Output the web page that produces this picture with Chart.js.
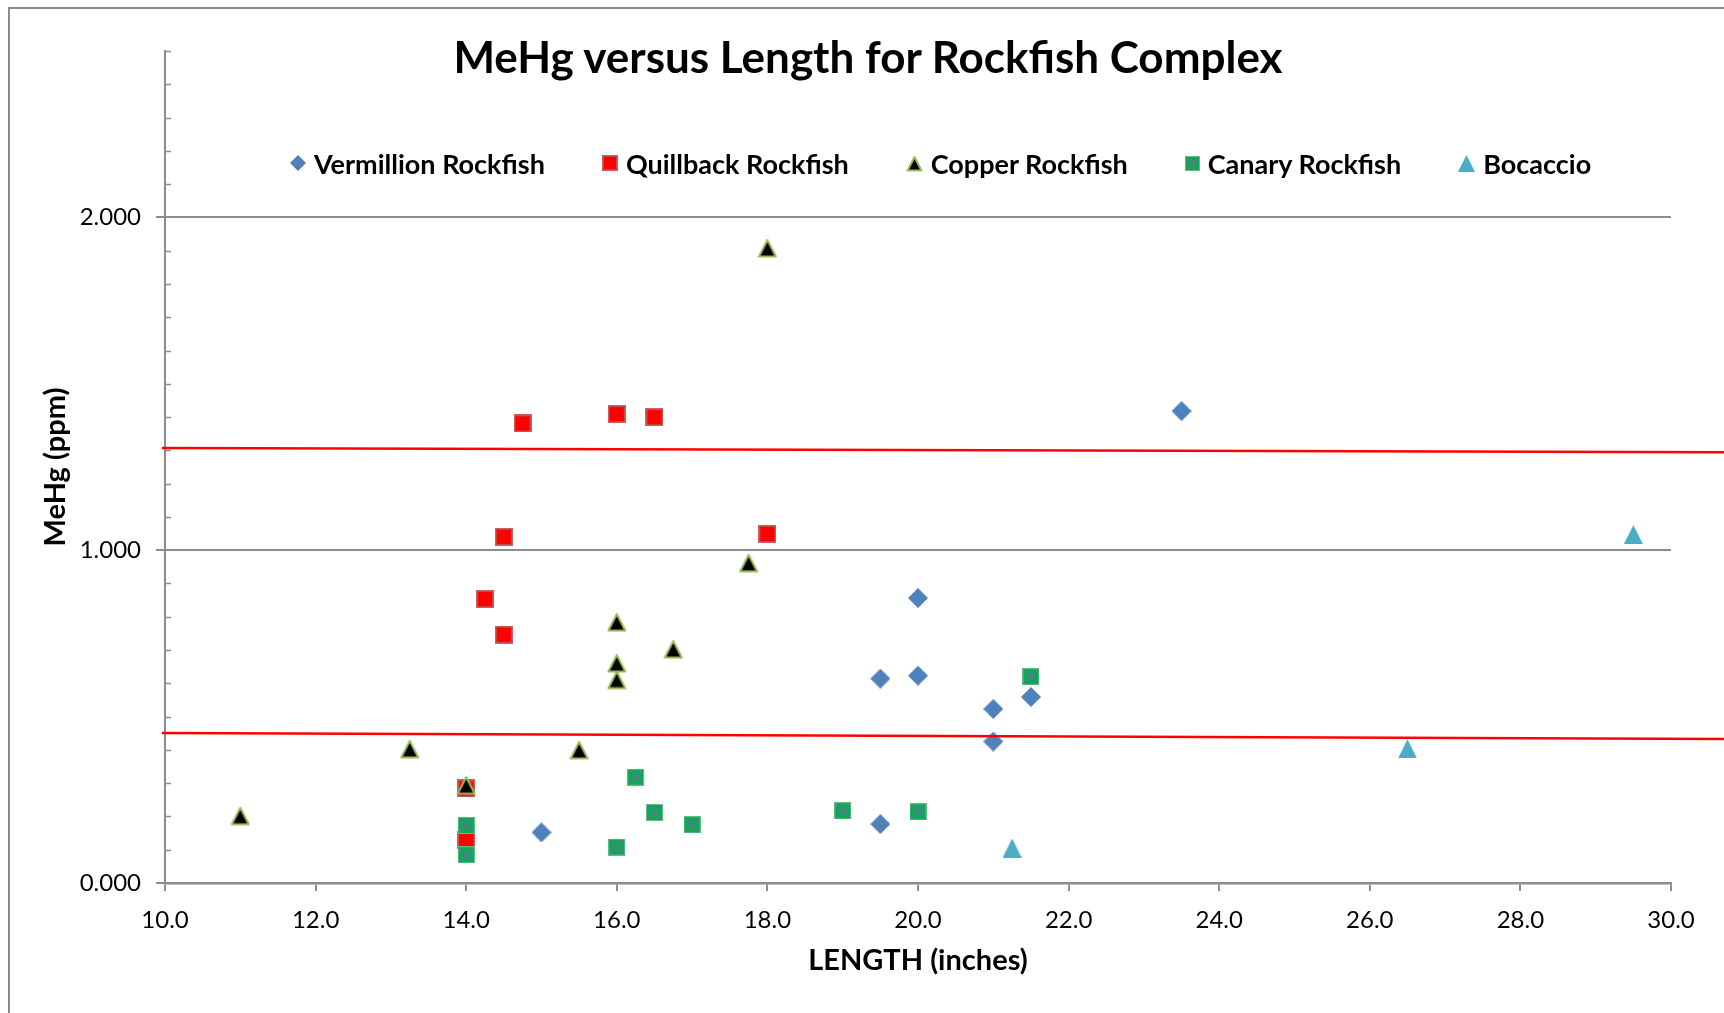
<!DOCTYPE html>
<html>
<head>
<meta charset="utf-8">
<title>MeHg versus Length for Rockfish Complex</title>
<script src="https://cdn.jsdelivr.net/npm/chart.js@4.4.1/dist/chart.umd.min.js"></script>
<style>
    html, body { margin: 0; padding: 0; background: #fff; }
    #cadre { position: relative; width: 1724px; height: 1013px; overflow: hidden; font-family: Lato, sans-serif; color: #000; }
    #bord { position: absolute; left: 8px; top: 7px; width: 1800px; height: 1100px; border-left: 2px solid #8c8c8c; border-top: 2px solid #8c8c8c; }
    #graph { position: absolute; left: 0; top: 0; }
    #titre { position: absolute; left: 6px; width: 1724px; top: 30px; line-height: 52px; text-align: center; font-weight: bold; font-size: 44px; }
    #legende { position: absolute; left: 290px; top: 147px; height: 32px; display: flex; align-items: center; gap: 57px; font-weight: bold; font-size: 27px; }
    .item { display: flex; align-items: center; gap: 8px; }
</style>
</head>
<body>
<div id="cadre">
    <div id="bord"></div>
    <canvas id="graph" width="1724" height="1013"></canvas>
    <div id="titre">MeHg versus Length for Rockfish Complex</div>
    <div id="legende"></div>
</div>
<script>
// séries (longueur en pouces, MeHg en ppm)
const vermillionX = [23.5, 20.0, 20.0, 19.5, 21.0, 21.5, 21.0, 19.5, 15.0];
const vermillionY = [1.418, 0.856, 0.623, 0.614, 0.523, 0.559, 0.425, 0.177, 0.152];

const quillbackX = [14.75, 16.0, 16.5, 14.5, 18.0, 14.25, 14.5, 14.0, 14.0];
const quillbackY = [1.381, 1.409, 1.400, 1.040, 1.049, 0.853, 0.746, 0.284, 0.128];

const copperX = [11.0, 13.25, 14.0, 15.5, 16.0, 16.0, 16.0, 16.75, 17.75, 18.0];
const copperY = [0.202, 0.403, 0.294, 0.400, 0.784, 0.661, 0.611, 0.703, 0.962, 1.908];

const canaryX = [14.0, 14.0, 16.0, 16.25, 16.5, 17.0, 19.0, 20.0, 21.5];
const canaryY = [0.173, 0.085, 0.108, 0.318, 0.212, 0.175, 0.217, 0.214, 0.620];

const bocaccioX = [21.25, 26.5, 29.5];
const bocaccioY = [0.105, 0.403, 1.047];

// les deux traits rouges
const traitX = [9.96, 30.75];
const traitHautY = [1.307, 1.294];
const traitBasY = [0.451, 0.433];

const nomsSeries = ['Vermillion Rockfish', 'Quillback Rockfish', 'Copper Rockfish', 'Canary Rockfish', 'Bocaccio'];

const gris = '#8c8c8c';

function points(xs, ys) {
    return xs.map((x, i) => ({ x: x, y: ys[i] }));
}

function estEntier(v) {
    return Math.abs(v - Math.round(v)) < 1e-6;
}

// dessin des marqueurs façon Excel
function marqueur(genre, taille) {
    const c = document.createElement('canvas');
    c.width = taille;
    c.height = taille;
    const g = c.getContext('2d');
    const s = taille;
    if (genre === 'losange') {
        g.fillStyle = '#4F81BD';
        g.beginPath();
        g.moveTo(s / 2, 0); g.lineTo(s, s / 2); g.lineTo(s / 2, s); g.lineTo(0, s / 2);
        g.closePath();
        g.fill();
    } else if (genre === 'carreRouge') {
        g.fillStyle = '#FF0000';
        g.fillRect(1, 1, s - 2, s - 2);
        g.strokeStyle = 'rgba(192,80,77,0.9)';
        g.lineWidth = 2;
        g.strokeRect(1, 1, s - 2, s - 2);
    } else if (genre === 'carreVert') {
        g.fillStyle = '#00B050';
        g.fillRect(0, 0, s, s);
        g.strokeStyle = '#8064A2';
        g.lineWidth = 1.5;
        g.beginPath();
        g.moveTo(2, 2); g.lineTo(s - 2, s - 2);
        g.moveTo(s - 2, 2); g.lineTo(2, s - 2);
        g.stroke();
        g.strokeStyle = 'rgba(110,190,140,0.9)';
        g.lineWidth = 1;
        g.strokeRect(0.5, 0.5, s - 1, s - 1);
    } else if (genre === 'triangleNoir') {
        g.beginPath();
        g.moveTo(s / 2, 2); g.lineTo(s - 1.5, s - 1.5); g.lineTo(1.5, s - 1.5);
        g.closePath();
        g.fillStyle = '#000';
        g.fill();
        g.strokeStyle = '#9BBB59';
        g.lineWidth = 2;
        g.lineJoin = 'round';
        g.stroke();
    } else if (genre === 'triangleBleu') {
        g.beginPath();
        g.moveTo(s / 2, 0); g.lineTo(s, s); g.lineTo(0, s);
        g.closePath();
        g.fillStyle = '#4BACC6';
        g.fill();
    }
    return c;
}

const genres = ['losange', 'carreRouge', 'triangleNoir', 'carreVert', 'triangleBleu'];
const taillesGraph = [20, 18, 20, 17, 19];
const taillesLegende = [16, 16, 17, 15, 17];

// petites graduations internes de l'axe Y
const petitesGraduations = {
    id: 'petitesGraduations',
    beforeDatasetsDraw(chart) {
        const ech = chart.scales.y;
        const ctx = chart.ctx;
        ctx.save();
        ctx.strokeStyle = gris;
        ctx.lineWidth = 1.5;
        ech.ticks.forEach(t => {
            if (estEntier(t.value)) return;
            const py = Math.round(ech.getPixelForValue(t.value)) + 0.5;
            ctx.beginPath();
            ctx.moveTo(ech.right, py);
            ctx.lineTo(ech.right + 6, py);
            ctx.stroke();
        });
        ctx.restore();
    }
};

const seriesX = [vermillionX, quillbackX, copperX, canaryX, bocaccioX];
const seriesY = [vermillionY, quillbackY, copperY, canaryY, bocaccioY];

const jeux = nomsSeries.map((nom, i) => ({
    label: nom,
    data: points(seriesX[i], seriesY[i]),
    pointStyle: marqueur(genres[i], taillesGraph[i]),
    pointRadius: 10,
    order: 5 - i
}));

[traitHautY, traitBasY].forEach(ys => {
    jeux.push({
        label: '',
        data: points(traitX, ys),
        showLine: true,
        borderColor: '#FF0000',
        borderWidth: 2.5,
        pointRadius: 0,
        clip: false,
        order: 0
    });
});

Chart.defaults.font.family = 'Lato, sans-serif';
Chart.defaults.color = '#000';

new Chart(document.getElementById('graph'), {
    type: 'scatter',
    data: { datasets: jeux },
    plugins: [petitesGraduations],
    options: {
        responsive: false,
        devicePixelRatio: 1,
        animation: false,
        layout: { padding: { top: 51, right: 53, left: 0, bottom: 0 } },
        plugins: {
            legend: { display: false },
            title: { display: false },
            tooltip: { enabled: false }
        },
        scales: {
            x: {
                type: 'linear',
                min: 10,
                max: 30,
                afterFit: s => { s.height = 130; },
                border: { color: gris, width: 2.5 },
                grid: { drawOnChartArea: false, color: gris, tickColor: gris, tickLength: 8, lineWidth: 2 },
                ticks: {
                    stepSize: 2,
                    padding: 15,
                    autoSkip: false,
                    maxRotation: 0,
                    font: { size: 24 },
                    callback: v => v.toFixed(1)
                },
                title: {
                    display: true,
                    text: 'LENGTH (inches)',
                    font: { size: 29, weight: 'bold' },
                    padding: { bottom: 35 }
                }
            },
            y: {
                min: 0,
                max: 2.5,
                afterFit: s => { s.width = 165; },
                border: { color: gris, width: 2 },
                grid: {
                    color: c => (estEntier(c.tick.value) && c.tick.value > 0) ? gris : 'transparent',
                    tickColor: c => estEntier(c.tick.value) ? gris : 'transparent',
                    lineWidth: 2,
                    tickLength: 9
                },
                ticks: {
                    stepSize: 0.1,
                    autoSkip: false,
                    padding: 15,
                    font: { size: 24 },
                    callback: v => estEntier(v) ? v.toFixed(3) : ''
                },
                title: {
                    display: true,
                    text: 'MeHg (ppm)',
                    font: { size: 29, weight: 'bold' },
                    padding: { top: 38 }
                }
            }
        }
    }
});

// légende HTML
const legende = document.getElementById('legende');
nomsSeries.forEach((nom, i) => {
    const item = document.createElement('div');
    item.className = 'item';
    item.appendChild(marqueur(genres[i], taillesLegende[i]));
    const texte = document.createElement('span');
    texte.textContent = nom;
    item.appendChild(texte);
    legende.appendChild(item);
});
</script>
</body>
</html>
